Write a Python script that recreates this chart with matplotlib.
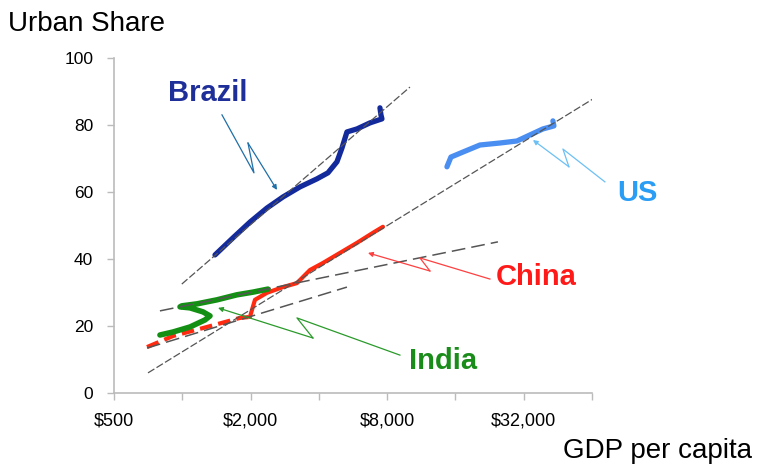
import numpy as np
import matplotlib
matplotlib.use("Agg")
import matplotlib.pyplot as plt

plt.rcParams['font.family'] = ['Liberation Sans', 'DejaVu Sans']

# urbanisation paths (GDP per capita, urban share %)
brazil_gdp = [1394, 1673, 1988, 2362, 2779, 3302, 3923, 4387, 4807, 5057, 5319, 5889, 6718, 7589, 7512, 7437]
brazil_urb = [41.2, 46.3, 51.0, 55.2, 58.5, 61.5, 63.9, 65.7, 69.0, 73.1, 77.9, 78.8, 80.6, 81.8, 83.0, 85.1]

us_gdp = [14680, 15285, 17267, 20520, 25135, 29866, 34080, 38886, 43478, 43040]
us_urb = [67.5, 70.4, 71.9, 74.0, 74.6, 75.2, 77.0, 78.8, 79.7, 81.2]

china_gdp_early = [699, 910, 1285, 1796, 1988]
china_urb_early = [13.7, 17.0, 19.7, 22.4, 22.7]
china_gdp = [1988, 2029, 2091, 2362, 2779, 3203, 3404, 3655, 4170, 4955, 5889, 6926, 7666]
china_urb = [22.7, 24.8, 27.8, 29.9, 31.6, 32.8, 34.6, 36.7, 38.8, 41.8, 44.8, 47.8, 49.6]

india_gdp = [797, 910, 1081, 1259, 1325, 1234, 1081, 977, 995, 1161, 1422, 1742, 2049, 2386]
india_urb = [17.3, 18.2, 19.7, 21.8, 23.0, 24.2, 25.4, 25.7, 26.0, 26.6, 27.8, 29.3, 30.1, 31.0]

# fitted trend lines (end points)
trend_brazil = ([995, 10085], [32.5, 91.3])
trend_long = ([706, 65900], [6.0, 88.1])
trend_india_hi = ([797, 24630], [24.5, 45.1])
trend_india_lo = ([699, 5319], [13.4, 31.6])

x_ticks = [500, 1000, 2000, 4000, 8000, 16000, 32000, 64000]
x_labels = ['$500', '', '$2,000', '', '$8,000', '', '$32,000', '']
y_ticks = [0, 20, 40, 60, 80, 100]

fig = plt.figure(figsize=(7.58, 4.68), dpi=100)
ax = fig.add_axes([0.1504, 0.1603, 0.6306, 0.716])

ax.plot(brazil_gdp, brazil_urb, color='#132a9c', lw=3.8, solid_capstyle='round', zorder=3)
ax.plot(us_gdp, us_urb, color='#4a8ef2', lw=3.8, solid_capstyle='round', zorder=3)
ax.plot(china_gdp_early, china_urb_early, color='#ff2a10', lw=3.0, dashes=(3, 1.5), zorder=3)
ax.plot(china_gdp, china_urb, color='#ff2a10', lw=3.0, solid_capstyle='round', zorder=3)
ax.plot(india_gdp, india_urb, color='#139013', lw=4.0, solid_capstyle='round', zorder=3)

for tx, ty in [trend_brazil, trend_long]:
    ax.plot(tx, ty, color='#555555', lw=0.9, dashes=(6, 2), zorder=4)
for tx, ty in [trend_india_hi, trend_india_lo]:
    ax.plot(tx, ty, color='#555555', lw=1.1, dashes=(9, 4), zorder=4)

# zig-zag callout arrows
def callout(xs, ys, color, lw=0.9):
    ax.plot(xs[:-1], ys[:-1], color=color, lw=lw, clip_on=False, zorder=5)
    ax.annotate('', xy=(xs[-1], ys[-1]), xytext=(xs[-2], ys[-2]),
                arrowprops=dict(arrowstyle='-|>', color=color, lw=lw,
                                mutation_scale=7, shrinkA=0, shrinkB=0),
                annotation_clip=False, zorder=5)

callout([1496, 2070, 1948, 2615], [83.0, 65.7, 74.6, 60.6], '#1f6fa8')
callout([72960, 47640, 50640, 35140], [63.0, 72.8, 67.5, 75.5], '#6cc0f5')
callout([22710, 11160, 12355, 6585], [34.0, 40.3, 36.4, 41.8], '#ff4040')
callout([9108, 3203, 3768, 1437], [11.3, 22.4, 16.4, 25.4], '#2a9a2a')

ax.text(865, 89.6, 'Brazil', color='#1f2f99', fontsize=21, fontweight='bold', ha='left', va='center')
ax.text(82400, 59.8, 'US', color='#2a9df4', fontsize=21, fontweight='bold', ha='left', va='center', clip_on=False)
ax.text(24130, 34.5, 'China', color='#ff1a1a', fontsize=21, fontweight='bold', ha='left', va='center', clip_on=False)
ax.text(9980, 9.4, 'India', color='#1a8c1a', fontsize=21, fontweight='bold', ha='left', va='center')

ax.set_xscale('log', base=2)
ax.set_xlim(500, 64000)
ax.set_ylim(0, 100)
ax.set_xticks(x_ticks)
ax.set_xticklabels(x_labels)
ax.xaxis.set_minor_locator(matplotlib.ticker.NullLocator())
ax.set_yticks(y_ticks)
ax.tick_params(axis='both', colors='#bbbbbb', labelcolor='black', length=5, width=1)
ax.tick_params(axis='x', pad=9, labelsize=13)
ax.tick_params(axis='y', pad=10, labelsize=12.5)

for side in ['top', 'right']:
    ax.spines[side].set_visible(False)
for side in ['left', 'bottom']:
    ax.spines[side].set_color('#bbbbbb')
    ax.spines[side].set_linewidth(1.2)

fig.text(8 / 758, 1 - 24 / 468, 'Urban Share', fontsize=20, ha='left', va='center')
fig.text(752 / 758, 1 - 451 / 468, 'GDP per capita', fontsize=20, ha='right', va='center')

fig.savefig('out.png', dpi=100)
